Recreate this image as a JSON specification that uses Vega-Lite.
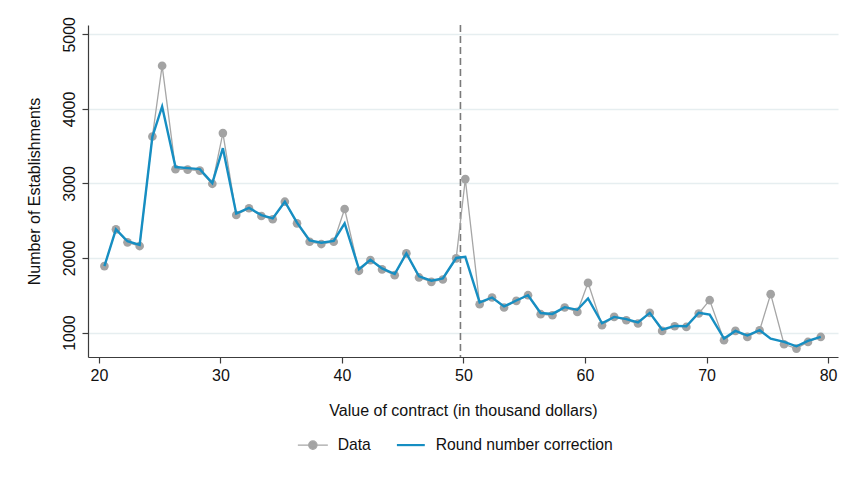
{
  "$schema": "https://vega.github.io/schema/vega-lite/v6.json",
  "width": 750,
  "height": 332,
  "autosize": {"type": "none"},
  "padding": {"left": 88, "top": 25, "right": 11, "bottom": 120},
  "background": "white",
  "config": {
    "view": {"stroke": null},
    "font": "Liberation Sans",
    "axis": {
      "domainColor": "#3c3c3c",
      "domainWidth": 1.2,
      "tickColor": "#3c3c3c",
      "tickWidth": 1.2,
      "tickSize": 6,
      "labelColor": "#111111",
      "titleColor": "#111111",
      "labelFont": "Liberation Sans",
      "titleFont": "Liberation Sans",
      "labelFontSize": 16,
      "titleFontSize": 16,
      "titleFontWeight": "normal"
    }
  },
  "datasets": {
    "series": [
      {"x": 20.45, "y": 1891, "series": "Data"},
      {"x": 21.4, "y": 2384, "series": "Data"},
      {"x": 22.35, "y": 2210, "series": "Data"},
      {"x": 23.35, "y": 2160, "series": "Data"},
      {"x": 24.4, "y": 3629, "series": "Data"},
      {"x": 25.2, "y": 4579, "series": "Data"},
      {"x": 26.3, "y": 3191, "series": "Data"},
      {"x": 27.3, "y": 3185, "series": "Data"},
      {"x": 28.3, "y": 3172, "series": "Data"},
      {"x": 29.33, "y": 2995, "series": "Data"},
      {"x": 30.2, "y": 3675, "series": "Data"},
      {"x": 31.3, "y": 2577, "series": "Data"},
      {"x": 32.35, "y": 2667, "series": "Data"},
      {"x": 33.37, "y": 2563, "series": "Data"},
      {"x": 34.3, "y": 2519, "series": "Data"},
      {"x": 35.3, "y": 2755, "series": "Data"},
      {"x": 36.3, "y": 2465, "series": "Data"},
      {"x": 37.34, "y": 2218, "series": "Data"},
      {"x": 38.3, "y": 2187, "series": "Data"},
      {"x": 39.32, "y": 2218, "series": "Data"},
      {"x": 40.22, "y": 2657, "series": "Data"},
      {"x": 41.4, "y": 1828, "series": "Data"},
      {"x": 42.34, "y": 1972, "series": "Data"},
      {"x": 43.3, "y": 1847, "series": "Data"},
      {"x": 44.34, "y": 1770, "series": "Data"},
      {"x": 45.3, "y": 2062, "series": "Data"},
      {"x": 46.34, "y": 1739, "series": "Data"},
      {"x": 47.36, "y": 1680, "series": "Data"},
      {"x": 48.3, "y": 1712, "series": "Data"},
      {"x": 49.4, "y": 1995, "series": "Data"},
      {"x": 50.15, "y": 3058, "series": "Data"},
      {"x": 51.33, "y": 1380, "series": "Data"},
      {"x": 52.35, "y": 1470, "series": "Data"},
      {"x": 53.34, "y": 1336, "series": "Data"},
      {"x": 54.35, "y": 1425, "series": "Data"},
      {"x": 55.31, "y": 1501, "series": "Data"},
      {"x": 56.35, "y": 1246, "series": "Data"},
      {"x": 57.32, "y": 1232, "series": "Data"},
      {"x": 58.33, "y": 1336, "series": "Data"},
      {"x": 59.37, "y": 1277, "series": "Data"},
      {"x": 60.25, "y": 1667, "series": "Data"},
      {"x": 61.4, "y": 1098, "series": "Data"},
      {"x": 62.4, "y": 1210, "series": "Data"},
      {"x": 63.4, "y": 1165, "series": "Data"},
      {"x": 64.36, "y": 1121, "series": "Data"},
      {"x": 65.33, "y": 1264, "series": "Data"},
      {"x": 66.35, "y": 1022, "series": "Data"},
      {"x": 67.38, "y": 1085, "series": "Data"},
      {"x": 68.34, "y": 1075, "series": "Data"},
      {"x": 69.36, "y": 1255, "series": "Data"},
      {"x": 70.26, "y": 1434, "series": "Data"},
      {"x": 71.44, "y": 897, "series": "Data"},
      {"x": 72.38, "y": 1022, "series": "Data"},
      {"x": 73.36, "y": 941, "series": "Data"},
      {"x": 74.37, "y": 1031, "series": "Data"},
      {"x": 75.28, "y": 1515, "series": "Data"},
      {"x": 76.38, "y": 843, "series": "Data"},
      {"x": 77.4, "y": 785, "series": "Data"},
      {"x": 78.35, "y": 874, "series": "Data"},
      {"x": 79.4, "y": 941, "series": "Data"},
      {"x": 20.45, "y": 1891, "series": "Round number correction"},
      {"x": 21.4, "y": 2384, "series": "Round number correction"},
      {"x": 22.35, "y": 2225, "series": "Round number correction"},
      {"x": 23.35, "y": 2175, "series": "Round number correction"},
      {"x": 24.4, "y": 3629, "series": "Round number correction"},
      {"x": 25.2, "y": 4032, "series": "Round number correction"},
      {"x": 26.3, "y": 3220, "series": "Round number correction"},
      {"x": 27.3, "y": 3205, "series": "Round number correction"},
      {"x": 28.3, "y": 3192, "series": "Round number correction"},
      {"x": 29.33, "y": 3005, "series": "Round number correction"},
      {"x": 30.2, "y": 3473, "series": "Round number correction"},
      {"x": 31.3, "y": 2595, "series": "Round number correction"},
      {"x": 32.35, "y": 2672, "series": "Round number correction"},
      {"x": 33.37, "y": 2575, "series": "Round number correction"},
      {"x": 34.3, "y": 2530, "series": "Round number correction"},
      {"x": 35.3, "y": 2755, "series": "Round number correction"},
      {"x": 36.3, "y": 2475, "series": "Round number correction"},
      {"x": 37.34, "y": 2235, "series": "Round number correction"},
      {"x": 38.3, "y": 2205, "series": "Round number correction"},
      {"x": 39.32, "y": 2228, "series": "Round number correction"},
      {"x": 40.22, "y": 2465, "series": "Round number correction"},
      {"x": 41.4, "y": 1850, "series": "Round number correction"},
      {"x": 42.34, "y": 1975, "series": "Round number correction"},
      {"x": 43.3, "y": 1860, "series": "Round number correction"},
      {"x": 44.34, "y": 1785, "series": "Round number correction"},
      {"x": 45.3, "y": 2062, "series": "Round number correction"},
      {"x": 46.34, "y": 1755, "series": "Round number correction"},
      {"x": 47.36, "y": 1695, "series": "Round number correction"},
      {"x": 48.3, "y": 1725, "series": "Round number correction"},
      {"x": 49.4, "y": 2000, "series": "Round number correction"},
      {"x": 50.15, "y": 2016, "series": "Round number correction"},
      {"x": 51.33, "y": 1405, "series": "Round number correction"},
      {"x": 52.35, "y": 1470, "series": "Round number correction"},
      {"x": 53.34, "y": 1350, "series": "Round number correction"},
      {"x": 54.35, "y": 1430, "series": "Round number correction"},
      {"x": 55.31, "y": 1501, "series": "Round number correction"},
      {"x": 56.35, "y": 1262, "series": "Round number correction"},
      {"x": 57.32, "y": 1250, "series": "Round number correction"},
      {"x": 58.33, "y": 1340, "series": "Round number correction"},
      {"x": 59.37, "y": 1305, "series": "Round number correction"},
      {"x": 60.25, "y": 1457, "series": "Round number correction"},
      {"x": 61.4, "y": 1125, "series": "Round number correction"},
      {"x": 62.4, "y": 1210, "series": "Round number correction"},
      {"x": 63.4, "y": 1180, "series": "Round number correction"},
      {"x": 64.36, "y": 1135, "series": "Round number correction"},
      {"x": 65.33, "y": 1264, "series": "Round number correction"},
      {"x": 66.35, "y": 1040, "series": "Round number correction"},
      {"x": 67.38, "y": 1090, "series": "Round number correction"},
      {"x": 68.34, "y": 1085, "series": "Round number correction"},
      {"x": 69.36, "y": 1265, "series": "Round number correction"},
      {"x": 70.26, "y": 1240, "series": "Round number correction"},
      {"x": 71.44, "y": 920, "series": "Round number correction"},
      {"x": 72.38, "y": 1022, "series": "Round number correction"},
      {"x": 73.36, "y": 960, "series": "Round number correction"},
      {"x": 74.37, "y": 1031, "series": "Round number correction"},
      {"x": 75.28, "y": 919, "series": "Round number correction"},
      {"x": 76.38, "y": 874, "series": "Round number correction"},
      {"x": 77.4, "y": 816, "series": "Round number correction"},
      {"x": 78.35, "y": 887, "series": "Round number correction"},
      {"x": 79.4, "y": 941, "series": "Round number correction"}
    ],
    "cutoff": [{"x": 49.75}]
  },
  "encoding": {
    "x": {
      "field": "x",
      "type": "quantitative",
      "scale": {"domain": [19.1, 80.82], "nice": false, "zero": false},
      "axis": {
        "title": "Value of contract (in thousand dollars)",
        "values": [20, 30, 40, 50, 60, 70, 80],
        "format": "d",
        "grid": false,
        "labelPadding": 4,
        "titlePadding": 19,
        "labelFlush": false
      }
    },
    "y": {
      "field": "y",
      "type": "quantitative",
      "scale": {"domain": [672, 5125], "nice": false, "zero": false},
      "axis": {
        "title": "Number of Establishments",
        "values": [1000, 2000, 3000, 4000, 5000],
        "format": "d",
        "grid": true,
        "gridColor": "#e6eef0",
        "gridWidth": 1.3,
        "labelAngle": -90,
        "labelAlign": "center",
        "labelBaseline": "bottom",
        "labelPadding": 5,
        "titlePadding": 19,
        "labelFlush": false
      }
    }
  },
  "layer": [
    {
      "data": {"name": "cutoff"},
      "mark": {"type": "rule", "color": "#7a7a7a", "strokeWidth": 1.6, "strokeDash": [7, 4]},
      "encoding": {"y": null}
    },
    {
      "data": {"name": "series"},
      "transform": [{"filter": "datum.series === 'Data'"}],
      "mark": {"type": "line", "strokeWidth": 1.3},
      "encoding": {
        "color": {
          "field": "series",
          "type": "nominal",
          "scale": {"domain": ["Data", "Round number correction"], "range": ["#a6a6a6", "#168ec2"]},
          "legend": {
            "orient": "none",
            "legendX": 217,
            "legendY": 412,
            "direction": "horizontal",
            "title": null,
            "symbolSize": 900,
            "labelFontSize": 15.7,
            "labelColor": "#111111",
            "labelFont": "Liberation Sans",
            "labelLimit": 400,
            "labelOffset": 17,
            "columnPadding": 21,
            "symbolStrokeWidth": 1.2,
            "encode": {
              "symbols": {
                "update": {
                  "shape": {"signal": "datum.value === 'Data' ? 'M-1,0H1M-0.28,0A0.28,0.28 0 1,1 0.28,0A0.28,0.28 0 1,1 -0.28,0Z' : 'M-0.93,0H0.93'"},
                  "fill": {"signal": "datum.value === 'Data' ? '#a3a3a3' : 'transparent'"},
                  "stroke": {"signal": "datum.value === 'Data' ? '#a6a6a6' : '#168ec2'"},
                  "strokeWidth": {"signal": "datum.value === 'Data' ? 1.2 : 2.2"}
                }
              }
            }
          }
        }
      }
    },
    {
      "data": {"name": "series"},
      "transform": [{"filter": "datum.series === 'Data'"}],
      "mark": {"type": "circle", "size": 75, "opacity": 1, "color": "#a3a3a3"}
    },
    {
      "data": {"name": "series"},
      "transform": [{"filter": "datum.series === 'Round number correction'"}],
      "mark": {"type": "line", "strokeWidth": 2.4},
      "encoding": {
        "color": {"field": "series", "type": "nominal"}
      }
    }
  ]
}
